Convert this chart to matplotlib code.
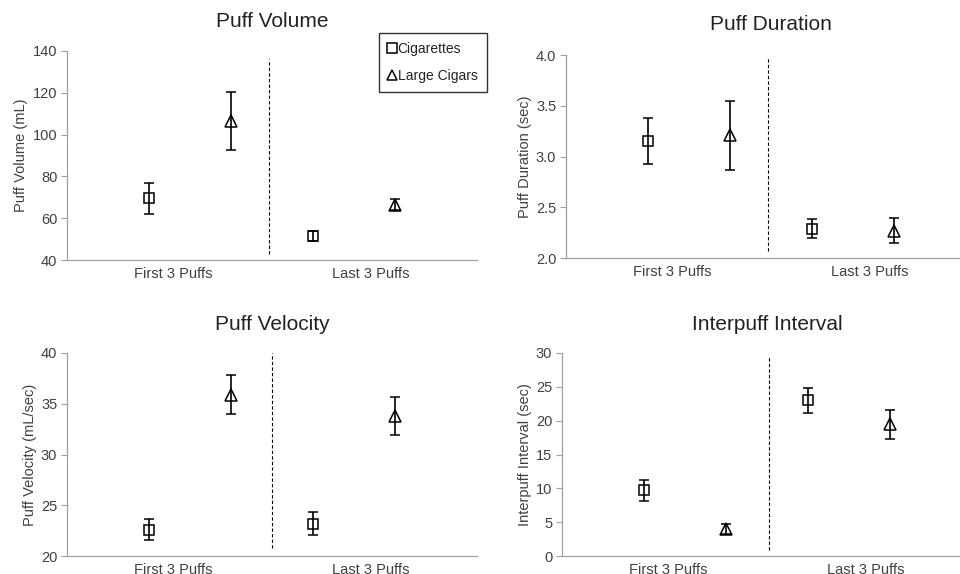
import matplotlib
matplotlib.use("Agg")
import matplotlib.pyplot as plt
from matplotlib.lines import Line2D

plt.rcParams['font.family'] = ['Liberation Sans', 'DejaVu Sans']

# positions along each panel (fraction of the x axis)
x_cig = [0.2, 0.6]
x_cigar = [0.4, 0.8]
groups = ["First 3 Puffs", "Last 3 Puffs"]

# Puff Volume (mL)
vol_cig = [69.5, 51.5]
vol_cig_err = [7.3, 2.2]
vol_cigar = [106.5, 66.5]
vol_cigar_err = [13.8, 2.8]

# Puff Duration (sec)
dur_cig = [3.15, 2.29]
dur_cig_err = [0.225, 0.09]
dur_cigar = [3.21, 2.27]
dur_cigar_err = [0.34, 0.12]

# Puff Velocity (mL/sec)
vel_cig = [22.6, 23.2]
vel_cig_err = [1.0, 1.1]
vel_cigar = [35.9, 33.8]
vel_cigar_err = [1.95, 1.85]

# Interpuff Interval (sec)
ipi_cig = [9.7, 23.0]
ipi_cig_err = [1.5, 1.8]
ipi_cigar = [4.0, 19.5]
ipi_cigar_err = [0.75, 2.15]

W, H = 960, 574
fig = plt.figure(figsize=(9.6, 5.74), dpi=100)

def rect(left, top, bottom, width=410):
    return [left / W, 1 - bottom / H, width / W, (bottom - top) / H]

# rect, title, title pad, ylabel, ylim, ticks, format, divider x, divider span, data
panels = [
    (rect(67, 51, 260), "Puff Volume", 17.5, "Puff Volume (mL)", (40, 140), range(40, 141, 20), "{:.0f}",
     0.493, (0.03, 0.962), vol_cig, vol_cig_err, vol_cigar, vol_cigar_err),
    (rect(566, 55, 258), "Puff Duration", 18, "Puff Duration (sec)", (2.0, 4.0), [2.0, 2.5, 3.0, 3.5, 4.0], "{:.1f}",
     0.493, (0.034, 0.99), dur_cig, dur_cig_err, dur_cigar, dur_cigar_err),
    (rect(67, 353, 556), "Puff Velocity", 16.5, "Puff Velocity (mL/sec)", (20, 40), range(20, 41, 5), "{:.0f}",
     0.5, (0.04, 1.0), vel_cig, vel_cig_err, vel_cigar, vel_cigar_err),
    (rect(562, 353, 556), "Interpuff Interval", 16.5, "Interpuff Interval (sec)", (0, 30), range(0, 31, 5), "{:.0f}",
     0.505, (0.03, 0.98), ipi_cig, ipi_cig_err, ipi_cigar, ipi_cigar_err),
]

txt = '#404040'
for pos, title, tpad, ylabel, ylim, yticks, fmt, xdiv, span, c, ce, g, ge in panels:
    ax = fig.add_axes(pos)
    ax.errorbar(x_cig, c, yerr=ce, fmt='s', mfc='none', mec='black', ms=7.5, mew=1.1,
                ecolor='black', elinewidth=1.2, capsize=3.5, capthick=1.2, zorder=3)
    ax.errorbar(x_cigar, g, yerr=ge, fmt='^', mfc='none', mec='black', ms=8, mew=1.1,
                ecolor='black', elinewidth=1.2, capsize=3.5, capthick=1.2, zorder=3)
    ax.axvline(xdiv, ymin=span[0], ymax=span[1], color='black', ls=(0, (3, 2)), lw=0.8)
    ax.set_xlim(0, 1)
    ax.set_ylim(*ylim)
    ax.set_yticks(list(yticks))
    ax.set_yticklabels([fmt.format(v) for v in yticks])
    ax.set_xticks([0.26, 0.74])
    ax.set_xticklabels(groups)
    ax.tick_params(axis='x', length=0, pad=5, labelsize=10.5, colors=txt)
    ax.tick_params(axis='y', length=4, width=0.8, colors='#a0a0a0', labelcolor=txt,
                   labelsize=10.5, pad=3)
    for s in ['top', 'right']:
        ax.spines[s].set_visible(False)
    for s in ['left', 'bottom']:
        ax.spines[s].set_color('#a0a0a0')
        ax.spines[s].set_linewidth(0.9)
    ax.set_ylabel(ylabel, fontsize=10.5, color=txt, labelpad=3)
    ax.set_title(title, fontsize=15, color='#222222', pad=tpad)

handles = [
    Line2D([], [], marker='s', ls='none', mfc='none', mec='black', ms=7, mew=1.1),
    Line2D([], [], marker='^', ls='none', mfc='none', mec='black', ms=7.5, mew=1.1),
]
leg = fig.legend(handles, ["Cigarettes", "Large Cigars"], loc='upper left',
                 bbox_to_anchor=(379 / W, 1 - 33 / H), fontsize=10, frameon=True,
                 fancybox=False, edgecolor='black', handlelength=0.6, handletextpad=0.1,
                 borderpad=0.65, labelspacing=0.95, borderaxespad=0)
leg.get_frame().set_linewidth(1.0)
for t in leg.get_texts():
    t.set_color('#222222')

fig.savefig("out.png", dpi=100, facecolor='white')
